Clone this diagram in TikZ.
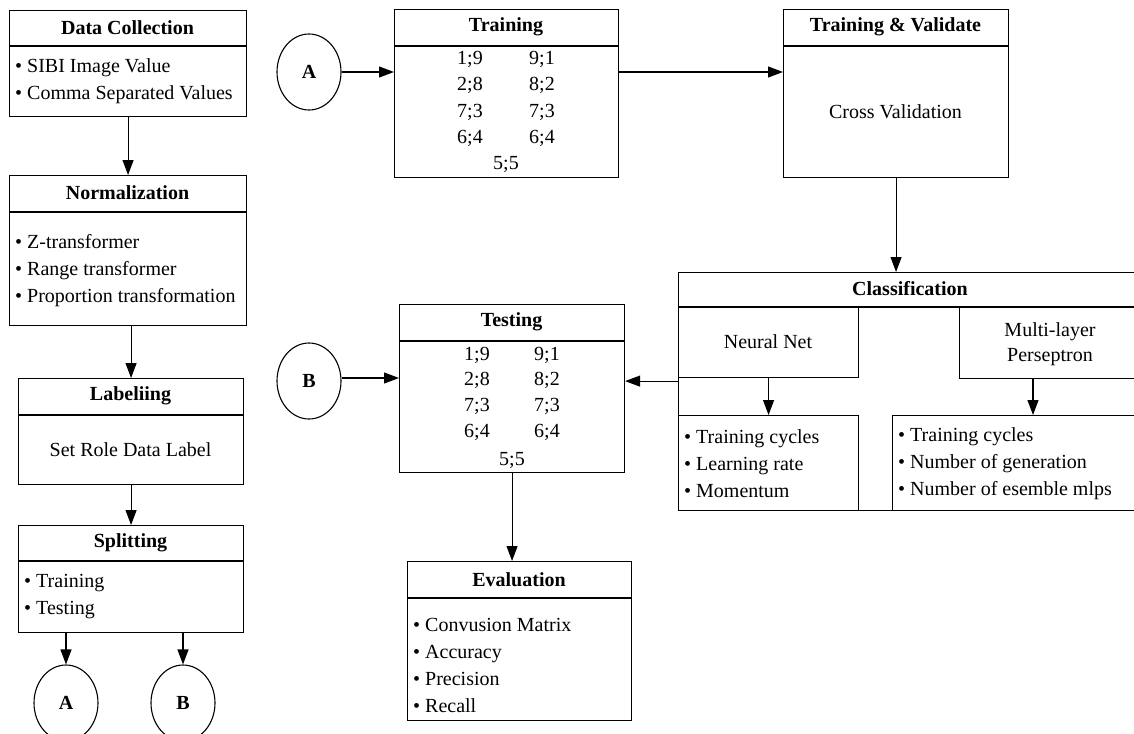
\documentclass[tikz,border=0pt]{standalone}
\usepackage{fontspec}
\setmainfont{Liberation Serif}
\usetikzlibrary{arrows.meta,shapes.geometric}
\begin{document}
\begin{tikzpicture}[x=1pt,y=-1pt,
  box/.style={draw, line width=1.1pt, rectangle, inner sep=0pt, anchor=north west},
  hdr/.style={font=\fontsize{20}{24}\selectfont\bfseries, inner sep=0pt},
  txt/.style={font=\fontsize{20}{24}\selectfont, inner sep=0pt},
  lst/.style={font=\fontsize{20}{27}\selectfont, inner sep=0pt, anchor=west, align=left},
  circ/.style={draw, ellipse, line width=1.1pt, minimum width=64pt, minimum height=76pt, inner sep=0pt, font=\fontsize{20}{24}\selectfont\bfseries},
  arr/.style={line width=1.1pt, -{Triangle[length=15pt,width=11pt]}},
  ln/.style={line width=1.1pt}
]
\clip (0,0) rectangle (1134,733);
\fill[white] (0,0) rectangle (1134,733);

% ---------- left column ----------
\node[box, minimum width=237pt, minimum height=106pt] (dc) at (9,10) {};
\draw[ln] (9,46) -- (246,46);
\node[hdr] (dct) at (127.5,28) {Data Collection};
\node[lst] (dcl) at (15,81.5) {• SIBI Image Value\\• Comma Separated Values};

\node[box, minimum width=237pt, minimum height=150pt] (nm) at (9,175) {};
\draw[ln] (9,212) -- (246,212);
\node[hdr] (nmt) at (127.5,193) {Normalization};
\node[lst] (nml) at (15,270.5) {• Z-transformer\\• Range transformer\\• Proportion transformation};

\node[box, minimum width=225pt, minimum height=106pt] (lb) at (18,378) {};
\draw[ln] (18,415) -- (243,415);
\node[hdr] (lbt) at (130.5,396) {Labeliing};
\node[txt] (lbl) at (130.5,450) {Set Role Data Label};

\node[box, minimum width=225pt, minimum height=107pt] (sp) at (18,525) {};
\draw[ln] (18,561) -- (243,561);
\node[hdr] (spt) at (130.5,543) {Splitting};
\node[lst] (spl) at (24,596.5) {• Training\\• Testing};

\node[circ] (a2) at (66,703) {A};
\node[circ] (b2) at (183,703) {B};

\draw[arr] (dc.south) -- (nm.north);
\draw[arr] (lb.north |- nm.south) -- (lb.north);
\draw[arr] (lb.south) -- (sp.north);
\draw[arr] (sp.south -| a2.north) -- (a2.north);
\draw[arr] (sp.south -| b2.north) -- (b2.north);

% ---------- training ----------
\node[circ] (a1) at (309,72) {A};
\node[box, minimum width=224pt, minimum height=168pt] (tr) at (394,9) {};
\draw[ln] (394,46) -- (618,46);
\node[hdr] (trt) at (506,27) {Training};
\node[txt] (tr1) at (470,59) {1;9};  \node[txt] (tr2) at (542,59) {9;1};
\node[txt] (tr3) at (470,85) {2;8};  \node[txt] (tr4) at (542,85) {8;2};
\node[txt] (tr5) at (470,112) {7;3}; \node[txt] (tr6) at (542,112) {7;3};
\node[txt] (tr7) at (470,138) {6;4}; \node[txt] (tr8) at (542,138) {6;4};
\node[txt] (tr9) at (506,164) {5;5};

\node[box, minimum width=225pt, minimum height=168pt] (tv) at (783,9) {};
\draw[ln] (783,46) -- (1008,46);
\node[hdr] (tvt) at (895.5,27) {Training \& Validate};
\node[txt] (tvl) at (895.5,112) {Cross Validation};

\draw[arr] (a1.east) -- (a1.east -| tr.west);
\draw[arr] (tr.east |- a1.east) -- (tv.west |- a1.east);

% ---------- classification ----------
\node[box, minimum width=464pt, minimum height=238pt] (cls) at (678,272) {};
\draw[ln] (678,307) -- (1142,307);
\node[hdr] (clst) at (910,289) {Classification};
\node[box, minimum width=180pt, minimum height=70pt] (nn) at (678,307) {};
\node[txt] (nnt) at (768,342) {Neural Net};
\node[box, minimum width=183pt, minimum height=71pt] (mlp) at (959,307) {};
\node[txt, align=center, font=\fontsize{20}{25}\selectfont] (mlpt) at (1050,344) {Multi-layer\\Perseptron};
\node[box, minimum width=180pt, minimum height=95pt] (nnp) at (678,415) {};
\node[lst] (nnpl) at (684,463.5) {• Training cycles\\• Learning rate\\• Momentum};
\node[box, minimum width=250pt, minimum height=95pt] (mlpp) at (892,415) {};
\node[lst] (mlppl) at (898,463.5) {• Training cycles\\• Number of generation\\• Number of esemble mlps};
\coordinate (mx) at (1033,0);

\draw[arr] (tv.south) -- (tv.south |- cls.north);
\draw[arr] (nn.south) -- (nnp.north);
\draw[arr] (mlp.south -| mx) -- (mlpp.north -| mx);

% ---------- testing ----------
\node[circ] (b1) at (309,381) {B};
\node[box, minimum width=225pt, minimum height=168pt] (te) at (399,304) {};
\draw[ln] (399,341) -- (624,341);
\node[hdr] (tet) at (511.5,322) {Testing};
\node[txt] (te1) at (477,355) {1;9};  \node[txt] (te2) at (547,355) {9;1};
\node[txt] (te3) at (477,380) {2;8};  \node[txt] (te4) at (547,380) {8;2};
\node[txt] (te5) at (477,406) {7;3};  \node[txt] (te6) at (547,406) {7;3};
\node[txt] (te7) at (477,432) {6;4};  \node[txt] (te8) at (547,432) {6;4};
\node[txt] (te9) at (512,460) {5;5};

\draw[arr] (b1.east |- 0,378) -- (te.west |- 0,378);
\draw[arr] ([yshift=-3pt]nn.south west) -- ([yshift=-3pt]nn.south west -| te.east);

% ---------- evaluation ----------
\node[box, minimum width=224pt, minimum height=159pt] (ev) at (407,561) {};
\draw[ln] (407,598) -- (631,598);
\node[hdr] (evt) at (519,580) {Evaluation};
\node[lst] (evl) at (413,665) {• Convusion Matrix\\• Accuracy\\• Precision\\• Recall};

\draw[arr] (te.south) -- (te.south |- ev.north);
\end{tikzpicture}
\end{document}
